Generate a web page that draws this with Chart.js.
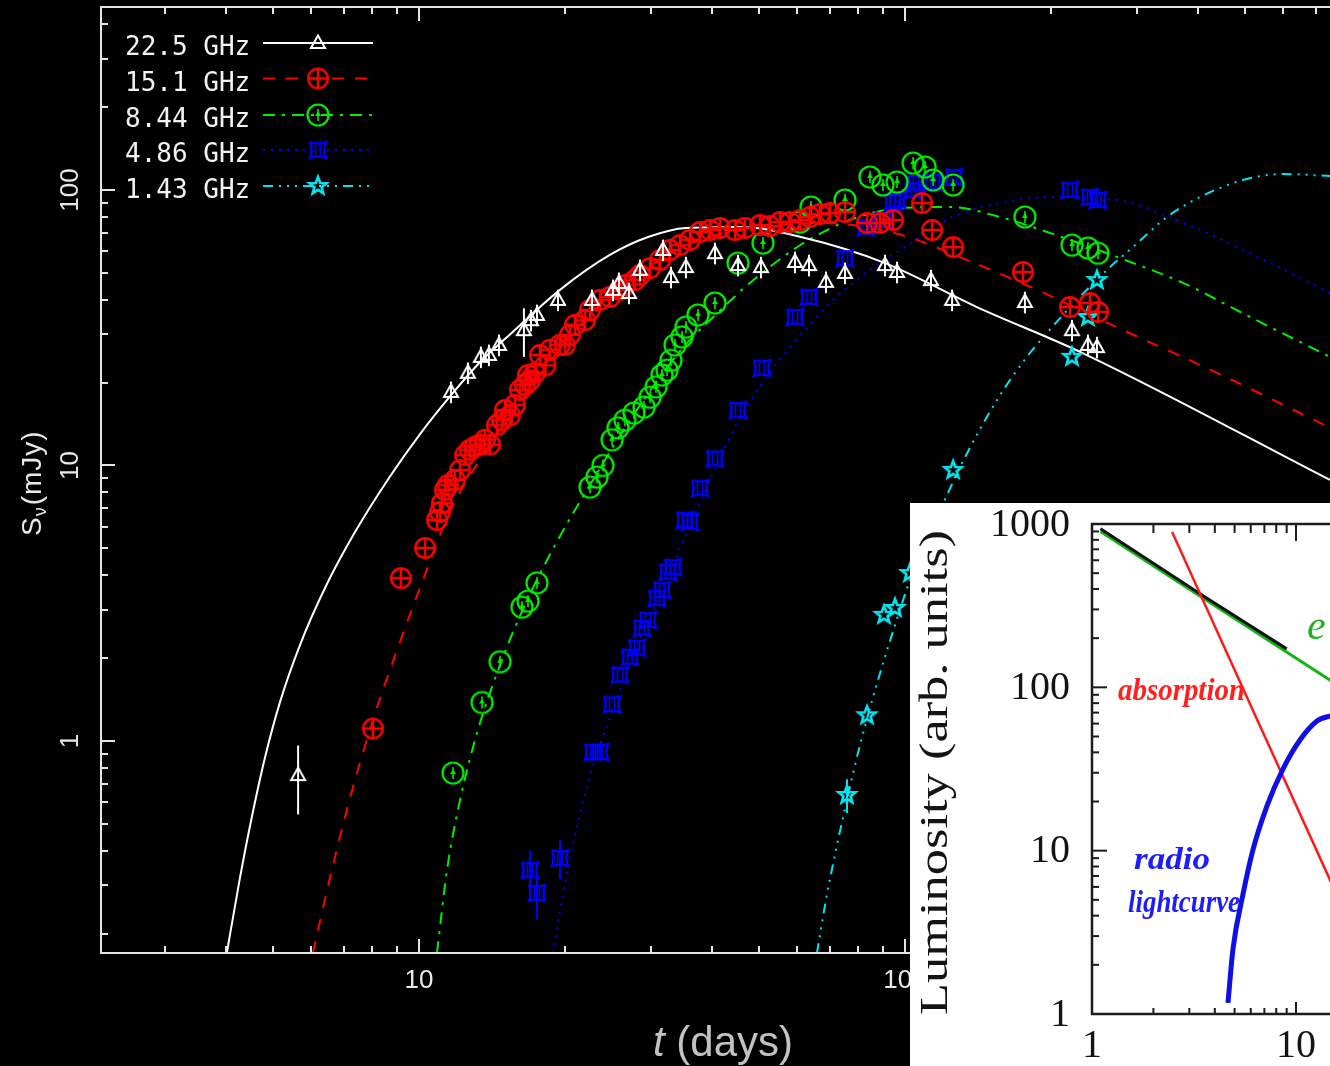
<!DOCTYPE html>
<html>
<head>
<meta charset="utf-8">
<script src="https://cdn.jsdelivr.net/npm/chart.js@4.4.1/dist/chart.umd.min.js"></script>
<style>
    html, body { margin: 0; padding: 0; background: #000; overflow: hidden; width: 1330px; height: 1066px; }
    #grafico { position: absolute; left: 0; top: 0; }
    #inset { position: absolute; left: 910px; top: 503px; }
</style>
</head>
<body>
<canvas id="grafico" width="1400" height="1066"></canvas>
<canvas id="inset" width="600" height="563"></canvas>
<script>
// eixos (dias, mJy)
const xMin = 2.2168, xMax = 1000;
const yMin = 0.17, yMax = 461.6;
const xMajor = [10, 100, 1000];
const xMinor = [3, 4, 5, 6, 7, 8, 9, 20, 30, 40, 50, 60, 70, 80, 90, 200, 300, 400, 500, 600, 700, 800, 900];
const yMajor = [1, 10, 100];
const yMinor = [0.2, 0.3, 0.4, 0.5, 0.6, 0.7, 0.8, 0.9, 2, 3, 4, 5, 6, 7, 8, 9, 20, 30, 40, 50, 60, 70, 80, 90, 200, 300, 400];
const xTickLabels = ['10', '100'];
const yTickLabels = ['1', '10', '100'];
const legendas = ['22.5 GHz', '15.1 GHz', '8.44 GHz', '4.86 GHz', '1.43 GHz'];

// 22.5 GHz
const t225 = [5.64, 11.64, 12.61, 13.41, 13.93, 14.61, 16.44, 17.0, 17.49, 19.32, 22.70, 25.07, 25.79, 27.04, 28.49, 31.77, 33.0, 35.42, 40.65, 45.33, 50.54, 59.37, 63.46, 68.77, 75.25, 90.96, 96.3, 113.1, 125.0, 176.5, 220.6, 237.9, 248.3];
const s225 = [0.752, 18.5, 21.7, 24.8, 25.2, 27.4, 31.0, 33.7, 35.2, 39.9, 39.9, 43.4, 46.0, 42.3, 51.3, 60.6, 48.3, 52.5, 59.0, 53.4, 52.5, 54.8, 53.4, 46.4, 50.0, 53.4, 50.4, 47.1, 39.9, 39.2, 31.0, 27.4, 26.9];
const e225 = [0.28, 0.09, 0.09, 0.09, 0.09, 0.09, 0.2, 0.09, 0.09, 0.09, 0.09, 0.09, 0.09, 0.09, 0.09, 0.09, 0.09, 0.09, 0.09, 0.09, 0.09, 0.09, 0.09, 0.09, 0.09, 0.09, 0.09, 0.09, 0.09, 0.09, 0.09, 0.09, 0.09];
const c225t = [4.0, 4.28, 4.53, 4.82, 5.18, 5.69, 6.41, 7.38, 8.71, 10.05, 11.64, 13.35, 15.1, 19.5, 24.7, 29.6, 35.4, 45.8, 61.1, 91.0, 140.6, 232, 749];
const c225s = [0.16, 0.317, 0.53, 0.87, 1.39, 2.23, 3.6, 5.72, 9.1, 13.0, 18.0, 23.7, 29.0, 43.4, 58.1, 67.5, 72.8, 73.4, 67.5, 54.3, 37.6, 25.6, 8.86];

// 15.1 GHz
const t151 = [8.04, 9.18, 10.29, 10.89, 11.05, 11.15, 11.31, 11.47, 11.86, 12.15, 12.44, 12.73, 13.04, 13.35, 13.67, 14.0, 14.47, 14.82, 15.03, 15.4, 15.76, 16.14, 16.52, 16.76, 16.92, 17.33, 17.74, 18.2, 18.6, 19.5, 19.96, 20.45, 20.94, 21.96, 22.48, 23.57, 24.72, 25.91, 26.53, 27.82, 28.49, 29.88, 31.33, 32.84, 34.43, 36.1, 37.86, 39.7, 41.62, 44.69, 46.86, 50.3, 52.74, 55.3, 57.98, 60.81, 63.76, 66.85, 70.1, 75.25, 83.54, 88.83, 94.5, 108.4, 113.7, 125.6, 174.9, 218.5, 240.2, 249.5];
const s151 = [1.11, 3.90, 5.02, 6.34, 6.78, 7.3, 8.15, 8.49, 8.86, 9.63, 10.9, 11.4, 11.7, 11.9, 12.4, 11.9, 14.0, 14.6, 15.9, 15.2, 16.6, 18.8, 19.6, 21.3, 20.4, 21.7, 25.2, 23.1, 26.3, 27.4, 27.4, 29.8, 32.4, 33.7, 36.7, 39.9, 40.9, 43.4, 45.2, 47.1, 49.1, 52.1, 55.7, 60.6, 63.1, 65.9, 70.4, 71.6, 72.8, 71.6, 72.8, 74.6, 74.0, 76.5, 76.5, 77.8, 79.8, 81.8, 82.5, 83.2, 75.9, 75.9, 77.8, 89.7, 71.6, 62.1, 50.4, 37.6, 38.9, 36.1];
const c151t = [6.05, 6.56, 7.21, 8.04, 9.14, 10.05, 11.58, 13.35, 16.14, 19.5, 23.57, 29.88, 37.86, 50.3, 66.85, 80.8, 100, 134.2, 186.9, 280.9, 438.5, 749];
const c151s = [0.17, 0.319, 0.619, 1.19, 2.29, 3.6, 6.8, 10.5, 17.0, 26.5, 38.5, 53, 66, 73, 76, 74, 68.1, 55.7, 43.4, 31.0, 21.7, 13.7];

// 8.44 GHz
const t844 = [11.75, 13.48, 14.68, 16.29, 16.76, 17.49, 22.48, 23.24, 23.91, 24.96, 25.67, 26.53, 27.69, 29.04, 29.88, 30.74, 31.62, 32.38, 33.0, 33.63, 34.76, 35.42, 37.5, 40.65, 45.33, 51.02, 60.81, 64.07, 75.25, 84.72, 90.1, 96.3, 103.9, 110.0, 114.2, 125.6, 176.5, 220.6, 237.9, 249.5];
const s844 = [0.765, 1.38, 1.94, 3.06, 3.22, 3.75, 8.35, 9.08, 10.0, 12.4, 13.7, 14.6, 15.5, 16.3, 17.7, 19.3, 21.3, 22.2, 24.1, 27.4, 29.3, 31.8, 35.2, 38.9, 54.3, 64.2, 76.5, 86.8, 92.0, 111.5, 104.3, 106.9, 125.3, 121.2, 108.7, 104.3, 79.8, 63.1, 61.6, 59.0];
const c844t = [10.89, 11.42, 12.15, 13.22, 14.68, 16.52, 19.05, 22.48, 27.17, 34.43, 41.62, 47.98, 60.81, 70.76, 77.05, 97.6, 123.8, 156.8, 198.8, 273, 373.3, 512.8, 749];
const c844s = [0.17, 0.34, 0.611, 1.096, 1.888, 3.12, 5.14, 8.49, 14.6, 26, 36.5, 46, 63, 73, 78, 86.0, 86.8, 79.8, 69.8, 57.1, 46.0, 34.6, 24.8];

// 4.86 GHz
const t486 = [16.92, 17.49, 19.5, 22.80, 23.57, 24.96, 25.91, 27.17, 28.09, 28.76, 29.60, 30.89, 31.62, 32.53, 33.31, 35.26, 36.10, 37.86, 40.65, 45.33, 50.78, 59.37, 63.46, 75.25, 83.15, 90.1, 94.5, 96.3, 103.9, 105.3, 114.2, 126.2, 218.5, 240.2, 249.5];
const s486 = [0.340, 0.281, 0.376, 0.912, 0.912, 1.36, 1.74, 2.02, 2.18, 2.57, 2.75, 3.30, 3.53, 4.11, 4.28, 6.34, 6.24, 8.28, 10.6, 15.9, 22.6, 34.6, 40.9, 56.6, 73.4, 77.8, 90.5, 92.0, 100, 106.0, 106.9, 111.5, 100, 94.3, 92.0];
const e486 = [0.18, 0.2, 0.16, 0, 0, 0, 0, 0, 0, 0, 0, 0, 0, 0, 0, 0, 0, 0, 0, 0, 0, 0, 0, 0, 0, 0, 0, 0, 0, 0, 0, 0, 0, 0, 0];
const c486t = [18.87, 19.69, 20.94, 22.70, 24.96, 27.82, 31.33, 35.26, 39.7, 45.33, 52.74, 64.37, 77.05, 105.3, 123.8, 156.8, 198.8, 273, 373.3, 512.8, 749];
const c486s = [0.17, 0.265, 0.456, 0.79, 1.27, 2.12, 3.4, 5.5, 8.9, 14.4, 21.8, 33.2, 45.2, 65.9, 79.1, 89.7, 94.3, 92.0, 75.9, 59.0, 42.3];

// 1.43 GHz
const t143 = [75.97, 83.54, 90.5, 95.4, 102.4, 125.6, 220.6, 237.9, 248.3];
const s143 = [0.637, 1.24, 2.87, 3.04, 4.07, 9.63, 24.8, 34.6, 47.1];
const e143 = [0.14, 0, 0, 0, 0, 0, 0, 0, 0];
const c143t = [65.9, 68.77, 72.11, 75.97, 80.8, 86.78, 94.0, 102.4, 112.6, 122.0, 129.8, 154.7, 178.2, 196.0, 225.9, 264.2, 294.5, 346, 404.6, 496.1, 599.6, 749];
const c143s = [0.17, 0.265, 0.402, 0.611, 0.967, 1.53, 2.43, 3.84, 5.83, 7.81, 9.88, 17.3, 24.8, 30.3, 39.9, 52.5, 62.1, 79.8, 94.3, 108.7, 114.3, 112.4];

// figura menor (luminosidade)
const insGreenT = [1.1, 3.5, 15.5];
const insGreenL = [900, 352, 106];
const insBlackT = [1.1, 3.5, 9];
const insBlackL = [935, 364, 172];
const insRedT = [2.47, 5.75, 14.7, 16];
const insRedL = [894, 87, 6.6, 5.2];
const insBlueT = [4.64, 4.91, 5.5, 6.15, 7.21, 8.63, 10.46, 12.67, 14.68, 16];
const insBlueL = [1.17, 2.5, 5.42, 10.1, 18.8, 31.6, 47.6, 62.2, 66.7, 68];
const insXMajor = [1, 10, 100];
const insXMinor = [2, 3, 4, 5, 6, 7, 8, 9, 20, 30, 40, 50, 60, 70, 80, 90];
const insYMajor = [1, 10, 100, 1000];
const insYMinor = [2, 3, 4, 5, 6, 7, 8, 9, 20, 30, 40, 50, 60, 70, 80, 90, 200, 300, 400, 500, 600, 700, 800, 900];
const insXLabels = ['1', '10'];
const insYLabels = ['1', '10', '100', '1000'];

const cores = ['#ffffff', '#ff0000', '#00ee00', '#0000ff', '#00e6f0'];
const tracos = [[], [12, 11], [12, 7, 3, 7], [2, 6], [10, 6, 2, 6, 2, 6, 2, 6]];

const pts = (ts, ss) => ts.map((t, i) => ({ x: t, y: ss[i] }));

// simbolos desenhados num canvas pequeno
function marcador(tipo, cor) {
    const c = document.createElement('canvas');
    const n = 28;
    c.width = n; c.height = n;
    const g = c.getContext('2d');
    const m = n / 2;
    g.strokeStyle = cor; g.fillStyle = cor; g.lineWidth = 2;
    g.beginPath();
    if (tipo === 'tri') {
        g.lineWidth = 2;
        g.moveTo(m, m - 7.5); g.lineTo(m + 7, m + 5); g.lineTo(m - 7, m + 5); g.closePath();
        g.stroke();
    } else if (tipo === 'cruz') {
        g.lineWidth = 2.4;
        g.arc(m, m, 9.8, 0, Math.PI * 2);
        g.moveTo(m - 9.8, m); g.lineTo(m + 9.8, m);
        g.moveTo(m, m - 9.8); g.lineTo(m, m + 9.8);
        g.stroke();
    } else if (tipo === 'circ') {
        g.lineWidth = 2.2;
        g.arc(m, m, 10.5, 0, Math.PI * 2);
        g.stroke();
        g.beginPath(); g.lineWidth = 1.6;
        g.moveTo(m, m - 6); g.lineTo(m, m + 6); g.stroke();
        g.beginPath(); g.moveTo(m, m - 4); g.lineTo(m + 3, m + 1); g.lineTo(m - 3, m + 1); g.closePath(); g.fill();
    } else if (tipo === 'quad') {
        const h = 8;
        g.lineWidth = 2.4;
        g.moveTo(m - h, m - h);
        g.quadraticCurveTo(m, m - h + 3, m + h, m - h);
        g.quadraticCurveTo(m + h - 3, m, m + h, m + h);
        g.quadraticCurveTo(m, m + h - 3, m - h, m + h);
        g.quadraticCurveTo(m - h + 3, m, m - h, m - h);
        g.stroke();
        g.beginPath(); g.lineWidth = 1.6;
        g.moveTo(m - 2.5, m - 5.5); g.lineTo(m - 2.5, m + 5.5);
        g.moveTo(m + 2.5, m - 5.5); g.lineTo(m + 2.5, m + 5.5);
        g.stroke();
    } else if (tipo === 'estrela') {
        g.lineWidth = 2.6;
        for (let i = 0; i < 10; i++) {
            const r = i % 2 === 0 ? 9 : 3.8;
            const a = -Math.PI / 2 + i * Math.PI / 5;
            const px = m + r * Math.cos(a), py = m + r * Math.sin(a);
            if (i === 0) g.moveTo(px, py); else g.lineTo(px, py);
        }
        g.closePath();
        g.stroke();
    }
    return c;
}

const simbolos = [
    marcador('tri', cores[0]),
    marcador('cruz', cores[1]),
    marcador('circ', cores[2]),
    marcador('quad', cores[3]),
    marcador('estrela', cores[4])
];

function curva(ts, ss, i) {
    return {
        data: pts(ts, ss), showLine: true, borderColor: cores[i], borderWidth: 2,
        borderDash: tracos[i], pointRadius: 0, cubicInterpolationMode: 'monotone', order: 10
    };
}

function pontos(ts, ss, i, erros) {
    return {
        data: pts(ts, ss), showLine: false, pointStyle: simbolos[i], pointRadius: 6,
        erros: erros, corErro: cores[i], order: i + 1
    };
}

// barras de erro verticais
const barrasErro = {
    id: 'barrasErro',
    afterDatasetsDraw(chart) {
        const c = chart.ctx, xs = chart.scales.x, ys = chart.scales.y;
        c.save();
        c.lineWidth = 2;
        chart.data.datasets.forEach(ds => {
            if (!ds.erros) return;
            c.strokeStyle = ds.corErro;
            ds.data.forEach((p, j) => {
                const e = ds.erros[j];
                if (!e) return;
                const x = xs.getPixelForValue(p.x);
                c.beginPath();
                c.moveTo(x, ys.getPixelForValue(p.y * (1 - e)));
                c.lineTo(x, ys.getPixelForValue(p.y * (1 + e)));
                c.stroke();
            });
        });
        c.restore();
    }
};

// moldura, marcas, textos e legenda
const eixos = {
    id: 'eixos',
    afterDraw(chart) {
        const c = chart.ctx, a = chart.chartArea, xs = chart.scales.x, ys = chart.scales.y;
        c.save();
        c.strokeStyle = '#e4e4e4';
        c.lineWidth = 2;
        c.beginPath();
        c.moveTo(a.right + 20, a.top); c.lineTo(a.left, a.top); c.lineTo(a.left, a.bottom); c.lineTo(a.right + 20, a.bottom);
        c.stroke();

        const marcaX = (v, len) => {
            const x = Math.round(xs.getPixelForValue(v));
            if (x <= a.left || x > a.right) return;
            c.beginPath();
            c.moveTo(x, a.bottom); c.lineTo(x, a.bottom - len);
            c.moveTo(x, a.top); c.lineTo(x, a.top + len);
            c.stroke();
        };
        const marcaY = (v, len) => {
            const y = Math.round(ys.getPixelForValue(v));
            c.beginPath(); c.moveTo(a.left, y); c.lineTo(a.left + len, y); c.stroke();
        };
        xMinor.forEach(v => marcaX(v, 7));
        xMajor.forEach(v => marcaX(v, 14));
        yMinor.forEach(v => marcaY(v, 7));
        yMajor.forEach(v => marcaY(v, 14));

        c.fillStyle = '#e8e8e8';
        c.font = '26px "Liberation Sans"';
        c.textAlign = 'center';
        c.textBaseline = 'middle';
        xTickLabels.forEach((txt, i) => c.fillText(txt, xs.getPixelForValue(xMajor[i]), 981));
        yTickLabels.forEach((txt, i) => {
            c.save();
            c.translate(71, ys.getPixelForValue(yMajor[i]));
            c.rotate(-Math.PI / 2);
            c.fillText(txt, 0, 0);
            c.restore();
        });

        // titulo do eixo y
        c.save();
        c.translate(41, 536);
        c.rotate(-Math.PI / 2);
        c.textAlign = 'left';
        c.textBaseline = 'alphabetic';
        c.font = '28px "Liberation Sans"';
        c.fillText('S', 0, 0);
        let w = c.measureText('S').width + 1;
        c.font = '18px "Liberation Sans"';
        c.fillText('ν', w, 5);
        w += c.measureText('ν').width + 2;
        c.font = '28px "Liberation Sans"';
        c.letterSpacing = '1px';
        c.fillText('(mJy)', w, 0);
        c.restore();

        // titulo do eixo x
        c.fillStyle = '#c2c2c2';
        c.textAlign = 'left';
        c.textBaseline = 'alphabetic';
        c.font = 'italic 42px "Liberation Sans"';
        c.fillText('t', 653, 1056);
        const wt = c.measureText('t').width;
        c.font = '42px "Liberation Sans"';
        c.fillText(' (days)', 653 + wt, 1056);

        // legenda
        const linhas = [43, 78.5, 115, 150, 186];
        c.font = '26px "DejaVu Sans Mono"';
        c.fillStyle = '#f2f2f2';
        legendas.forEach((txt, i) => {
            const y = linhas[i];
            c.fillText(txt, 125, y + 12);
            c.strokeStyle = cores[i];
            c.lineWidth = 2;
            c.setLineDash(tracos[i]);
            c.beginPath(); c.moveTo(263, y); c.lineTo(373, y); c.stroke();
            c.setLineDash([]);
            c.drawImage(simbolos[i], 318 - simbolos[i].width / 2, y - simbolos[i].height / 2);
        });
        c.restore();
    }
};

new Chart(document.getElementById('grafico').getContext('2d'), {
    type: 'scatter',
    data: {
        datasets: [
            pontos(t225, s225, 0, e225),
            pontos(t151, s151, 1),
            pontos(t844, s844, 2),
            pontos(t486, s486, 3, e486),
            pontos(t143, s143, 4, e143),
            curva(c225t, c225s, 0),
            curva(c151t, c151s, 1),
            curva(c844t, c844s, 2),
            curva(c486t, c486s, 3),
            curva(c143t, c143s, 4)
        ]
    },
    options: {
        responsive: false,
        animation: false,
        devicePixelRatio: 1,
        layout: { padding: { left: 101, top: 7, right: 9, bottom: 113 } },
        plugins: { legend: { display: false }, tooltip: { enabled: false } },
        scales: {
            x: { type: 'logarithmic', min: xMin, max: xMax, display: false },
            y: { type: 'logarithmic', min: yMin, max: yMax, display: false }
        }
    },
    plugins: [barrasErro, eixos]
});

// texto esticado para caber numa largura
function textoAjustado(c, txt, x, y, larg, rot) {
    c.save();
    c.translate(x, y);
    if (rot) c.rotate(rot);
    const w = c.measureText(txt).width;
    c.scale(larg / w, 1);
    c.fillText(txt, 0, 0);
    c.restore();
}

const insetFundo = {
    id: 'insetFundo',
    beforeDraw(chart) {
        const c = chart.ctx;
        c.save();
        c.fillStyle = '#ffffff';
        c.fillRect(0, 0, chart.width, chart.height);
        c.restore();
    },
    afterDraw(chart) {
        const c = chart.ctx, a = chart.chartArea, xs = chart.scales.x, ys = chart.scales.y;
        c.save();
        c.strokeStyle = '#1c1c1c';
        c.lineWidth = 2.5;
        c.beginPath();
        c.moveTo(a.right + 20, a.top); c.lineTo(a.left, a.top); c.lineTo(a.left, a.bottom); c.lineTo(a.right + 20, a.bottom);
        c.stroke();
        c.lineWidth = 2;
        insXMinor.forEach(v => {
            const x = xs.getPixelForValue(v);
            c.beginPath(); c.moveTo(x, a.top); c.lineTo(x, a.top + 9);
            c.moveTo(x, a.bottom); c.lineTo(x, a.bottom - 6); c.stroke();
        });
        insXMajor.forEach(v => {
            const x = xs.getPixelForValue(v);
            c.beginPath(); c.moveTo(x, a.top); c.lineTo(x, a.top + 17);
            c.moveTo(x, a.bottom); c.lineTo(x, a.bottom - 12); c.stroke();
        });
        insYMinor.forEach(v => {
            const y = ys.getPixelForValue(v);
            c.beginPath(); c.moveTo(a.left, y); c.lineTo(a.left + 7, y); c.stroke();
        });
        insYMajor.forEach(v => {
            const y = ys.getPixelForValue(v);
            c.beginPath(); c.moveTo(a.left, y); c.lineTo(a.left + 15, y); c.stroke();
        });

        c.fillStyle = '#141414';
        c.font = '40px "Liberation Serif"';
        c.textBaseline = 'middle';
        c.textAlign = 'right';
        insYLabels.forEach((txt, i) => c.fillText(txt, 160, ys.getPixelForValue(insYMajor[i]) + 1));
        c.textAlign = 'center';
        insXLabels.forEach((txt, i) => c.fillText(txt, xs.getPixelForValue(insXMajor[i]), 543));

        c.textAlign = 'left';
        c.textBaseline = 'alphabetic';
        c.font = '40px "Liberation Serif"';
        textoAjustado(c, 'Luminosity (arb. units)', 37, 512, 485, -Math.PI / 2);

        // anotacoes manuscritas
        c.font = 'italic 600 32px "Liberation Serif"';
        c.fillStyle = '#ff2020';
        textoAjustado(c, 'absorption', 208, 197, 127);
        c.fillStyle = '#1c1cff';
        textoAjustado(c, 'radio', 224, 366, 76);
        textoAjustado(c, 'lightcurve', 218, 409, 112);
        c.fillStyle = '#20b020';
        c.font = 'italic 42px "Liberation Serif"';
        c.fillText('e', 397, 136);
        c.restore();
    }
};

new Chart(document.getElementById('inset').getContext('2d'), {
    type: 'scatter',
    data: {
        datasets: [
            { data: pts(insBlueT, insBlueL), showLine: true, borderColor: '#1010e6', borderWidth: 5, pointRadius: 0, cubicInterpolationMode: 'monotone' },
            { data: pts(insRedT, insRedL), showLine: true, borderColor: '#ff1a1a', borderWidth: 2.5, pointRadius: 0 },
            { data: pts(insBlackT, insBlackL), showLine: true, borderColor: '#111111', borderWidth: 3, pointRadius: 0 },
            { data: pts(insGreenT, insGreenL), showLine: true, borderColor: '#14b414', borderWidth: 3, pointRadius: 0 }
        ]
    },
    options: {
        responsive: false,
        animation: false,
        devicePixelRatio: 1,
        layout: { padding: { left: 182, top: 21, right: 10, bottom: 52 } },
        plugins: { legend: { display: false }, tooltip: { enabled: false } },
        scales: {
            x: { type: 'logarithmic', min: 1, max: 100, display: false },
            y: { type: 'logarithmic', min: 1, max: 1000, display: false }
        }
    },
    plugins: [insetFundo]
});
</script>
</body>
</html>
